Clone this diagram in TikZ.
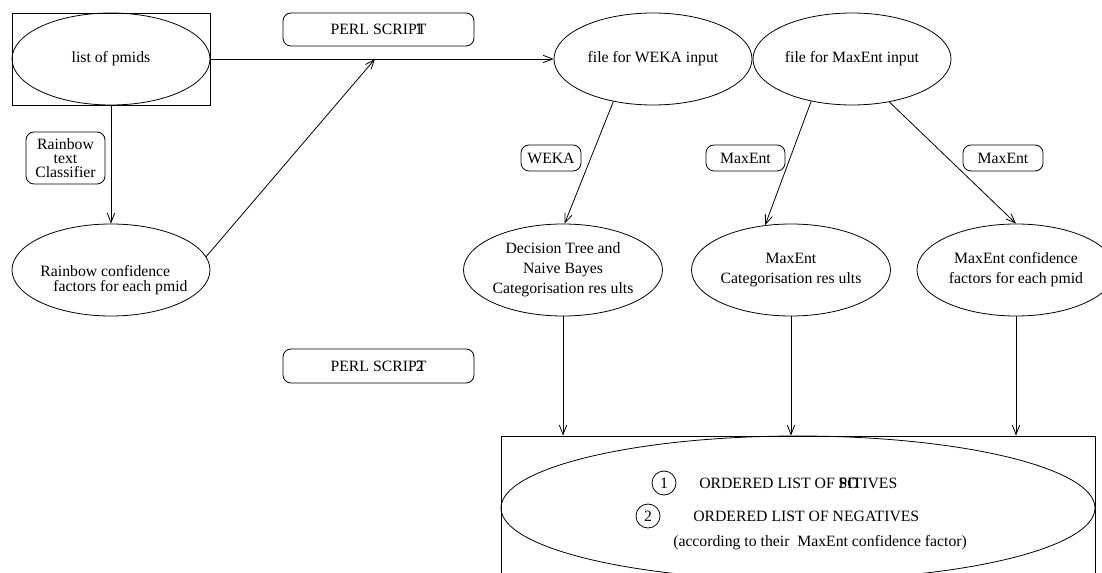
\documentclass[tikz,border=0pt]{standalone}
\usepackage{fontspec}
\setmainfont{Liberation Serif}
\usetikzlibrary{shapes.geometric,arrows.meta}
\begin{document}
\begin{tikzpicture}[x=0.75pt,y=-0.75pt,
  every node/.style={font=\fontsize{11.8}{15}\selectfont},
  ell/.style={ellipse,draw,line width=0.6pt,minimum width=148.5pt,minimum height=69pt,inner sep=0pt,align=center},
  rbox/.style={draw,line width=0.6pt,rounded corners=6pt,inner sep=0pt,align=center},
  conn/.style={draw,line width=0.6pt,-{Straight Barb[length=7pt,width=5.5pt]}},
  ]
\useasboundingbox (0,0) rectangle (1102,573);
\clip (0,0) rectangle (1102,573);

% left column
\node[draw,line width=0.6pt,minimum width=148.5pt,minimum height=69pt,inner sep=0pt] (pmbox) at (111,59) {};
\node[ell] (pmids) at (111,59) {list of pmids};
\node[rbox,minimum width=59.25pt,minimum height=39pt,font=\fontsize{11.8}{10.4}\selectfont] (rbtc) at (65.5,158) {Rainbow\\text\\Classifier};
\node[ell] (rbconf) at (111,270) {};
\node[align=left,font=\fontsize{11.8}{10.8}\selectfont] (rbconft) at (114,280) {Rainbow confidence\\\hspace*{9.75pt}factors for each pmid};

% perl script labels
\node[rbox,minimum width=143.25pt,minimum height=24.75pt] (perl1) at (378.5,29.5) {PERL SCRIP\rlap{\hspace{-0.1em}1}T};
\node[rbox,minimum width=143.25pt,minimum height=25.5pt] (perl2) at (378.5,366) {PERL SCRIP\rlap{\hspace{-0.05em}2}T};

% input files
\node[ell] (weka) at (653,59) {file for WEKA input};
\node[ell] (mxin) at (852,59) {file for MaxEnt input};

% tool labels
\node[rbox,minimum width=45pt,minimum height=19.5pt] (wekal) at (551,158) {WEKA};
\node[rbox,minimum width=59.25pt,minimum height=19.5pt] (mxl1) at (745.5,158) {MaxEnt};
\node[rbox,minimum width=60pt,minimum height=19.5pt] (mxl2) at (1003,158) {MaxEnt};

% results
\node[ell] (dt) at (563,270) {Decision Tree and\\Naive Bayes\\Categorisation res ults};
\node[ell] (mxcat) at (791,270) {MaxEnt\\Categorisation res ults};
\node[ell] (mxconf) at (1016,270) {MaxEnt confidence\\factors for each pmid};

% final box
\node[draw,line width=0.6pt,minimum width=445.5pt,minimum height=138pt,inner sep=0pt] (res) at (798,528) {};
\node[ell,minimum width=445.5pt,minimum height=108pt] (resell) at (798,508) {};
\node[circle,draw,line width=0.6pt,minimum size=18pt,inner sep=0pt] (c1) at (664,483) {1};
\node[circle,draw,line width=0.6pt,minimum size=18pt,inner sep=0pt] (c2) at (648,516) {2};
\node[anchor=west,inner sep=0pt] (pos) at (699,483) {ORDERED LIST OF \rlap{PO}SITIVES};
\node[anchor=west,inner sep=0pt] (neg) at (693,516) {ORDERED LIST OF NEGATIVES};
\node[anchor=west,inner sep=0pt] (acc) at (673,543) {(according to their\ \ MaxEnt confidence factor)};

% connectors
\coordinate (join) at (375,59);
\draw[conn] (pmids.east) -- (weka.west);
\draw[conn] (pmids.south) -- (rbconf.north);
\draw[conn] (rbconf.8) -- (join);
\draw[conn] (weka.227) -- (dt.88);
\draw[conn] (mxin.226) -- (mxcat.120);
\draw[conn] (mxin.311) -- (mxconf.north);
\draw[conn] (dt.south) -- (dt.south |- res.north);
\draw[conn] (mxcat.south) -- (mxcat.south |- res.north);
\draw[conn] (mxconf.south) -- (mxconf.south |- res.north);
\end{tikzpicture}
\end{document}
